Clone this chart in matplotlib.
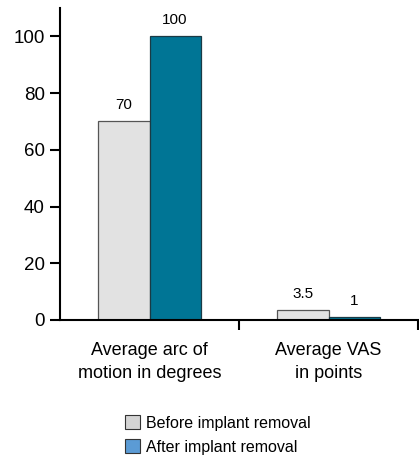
import numpy as np
import matplotlib.pyplot as plt
from matplotlib.patches import Patch

plt.rcParams['font.family'] = ['Liberation Sans', 'DejaVu Sans']

categories = ['Average arc of\nmotion in degrees', 'Average VAS\nin points']
before = [70, 3.5]
after = [100, 1]
before_labels = ['70', '3.5']
after_labels = ['100', '1']
series_names = ['Before implant removal', 'After implant removal']

fig = plt.figure(figsize=(4.19, 4.61), dpi=100)
ax = fig.add_axes([60 / 419, (461 - 320) / 461, 358 / 419, 312 / 461])

x = np.arange(len(categories))
w = 0.285
b1 = ax.bar(x - w / 2, before, w, color='#e2e2e2', edgecolor='#555555', linewidth=0.9)
b2 = ax.bar(x + w / 2, after, w, color='#007595', edgecolor='#1a3a45', linewidth=0.9)

for rect, lab in zip(b1, before_labels):
    ax.text(rect.get_x() + rect.get_width() / 2, rect.get_height() + 3.2, lab,
            ha='center', va='bottom', fontsize=11)
for rect, lab in zip(b2, after_labels):
    ax.text(rect.get_x() + rect.get_width() / 2, rect.get_height() + 3.2, lab,
            ha='center', va='bottom', fontsize=11)

ax.set_xlim(-0.5, 1.5)
ax.set_ylim(0, 110)
ax.set_yticks([0, 20, 40, 60, 80, 100])
ax.tick_params(axis='y', labelsize=13.5, length=7, width=1.5, direction='out', pad=4)
ax.set_xticks(x)
ax.set_xticklabels(categories, fontsize=13, linespacing=1.45)
ax.tick_params(axis='x', which='major', length=0, pad=16)
ax.set_xticks([0.5, 1.5], minor=True)
ax.tick_params(axis='x', which='minor', length=7, width=1.5, direction='out')

for s in ['top', 'right']:
    ax.spines[s].set_visible(False)
ax.spines['left'].set_linewidth(1.5)
ax.spines['bottom'].set_linewidth(1.5)

handles = [Patch(facecolor='#d4d4d4', edgecolor='#333333', linewidth=0.8),
           Patch(facecolor='#5b9bd5', edgecolor='#333333', linewidth=0.8)]
fig.legend(handles, series_names, loc='center', bbox_to_anchor=(218 / 419, 1 - 435 / 461),
           frameon=False, fontsize=11.5, handlelength=0.9, handleheight=0.9,
           handletextpad=0.4, labelspacing=0.55)

fig.savefig('out.png', dpi=100)
